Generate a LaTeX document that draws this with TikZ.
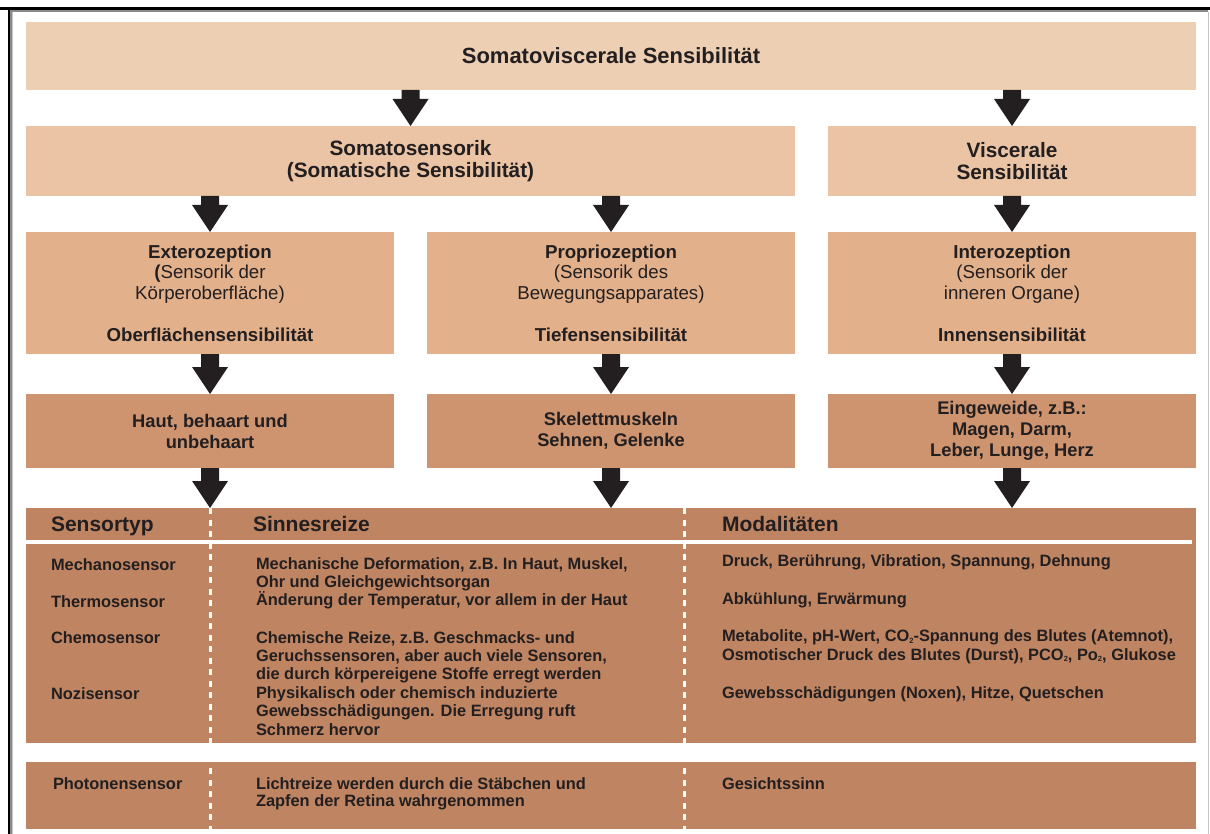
\documentclass[tikz,border=0pt]{standalone}
\usepackage{fontspec}
\setmainfont{Liberation Sans}
\usetikzlibrary{calc}

\definecolor{toneA}{HTML}{EDCFB3}
\definecolor{toneB}{HTML}{EAC4A4}
\definecolor{toneC}{HTML}{E2B08A}
\definecolor{toneD}{HTML}{CD946F}
\definecolor{toneE}{HTML}{BF8461}
\definecolor{ink}{HTML}{231F20}
\definecolor{frameDark}{HTML}{8A8A8A}
\definecolor{frameLight}{HTML}{C4C4C4}

\newcommand\fTitle{\fontsize{22}{24}\selectfont\bfseries}
\newcommand\fLevelB{\fontsize{20.8}{22.5}\selectfont\bfseries}
\newcommand\fLevelC{\fontsize{18.7}{20.7}\selectfont}
\newcommand\fLevelD{\fontsize{18.3}{21}\selectfont\bfseries}
\newcommand\fHead{\fontsize{21}{23}\selectfont\bfseries}
\newcommand\fCell{\fontsize{16.4}{18.4}\selectfont\bfseries}
% small lowered index digit
\newcommand\idx[1]{\raisebox{-1.6pt}{\fontsize{7.5}{7.5}\selectfont #1}}

% block arrow from the bottom of one node down to a point on the next
\newcommand\flowarrow[2]{%
  \path let \p1=(#1), \p2=(#2) in
    [fill=ink] (\x2-9pt,\y1) -- (\x2-9pt,\y2+27pt) -- (\x2-18pt,\y2+27pt)
    -- (\x2,\y2) -- (\x2+18pt,\y2+27pt) -- (\x2+9pt,\y2+27pt)
    -- (\x2+9pt,\y1) -- cycle;}

\tikzset{
  box/.style={rectangle, inner sep=0pt, outer sep=0pt, align=center, text=ink},
  wide/.style={box, minimum width=1170pt},
  narrow/.style={box, minimum width=368pt},
  cell/.style={anchor=base west, inner sep=0pt, outer sep=0pt, text=ink, font=\fCell},
  headcell/.style={anchor=base west, inner sep=0pt, outer sep=0pt, text=ink, font=\fHead},
  sep/.style={draw=white, line width=3pt, dash pattern=on 6pt off 5.5pt}
}

\begin{document}
\begin{tikzpicture}[x=1pt, y=-1pt]
\useasboundingbox (0,0) rectangle (1210,834);

% window frame
\fill[black] (0,7.5) rectangle (1210,10);
\fill[black] (7.5,7.5) rectangle (10,834);
\fill[frameDark] (10,10) rectangle (1208,12.5);
\fill[frameDark] (10,10) rectangle (11.8,834);
\fill[frameLight] (11.8,12.5) rectangle (12.8,834);
\fill[frameLight] (1208,12.5) rectangle (1209.2,834);

% level 1
\node[wide, fill=toneA, minimum height=68pt, font=\fTitle] (top) at (611,56)
  {Somatoviscerale Sensibilität};

% level 2
\node[box, fill=toneB, minimum width=769pt, minimum height=70pt, font=\fLevelB] (somato) at (410.5,161)
  {Somatosensorik\\(Somatische Sensibilität)};
\node[narrow, fill=toneB, minimum height=70pt, font=\fLevelB] (visc) at (1012,161)
  {Viscerale\\Sensibilität};

% level 3
\node[narrow, fill=toneC, minimum height=122pt, font=\fLevelC] (extero) at (210,293)
  {\textbf{Exterozeption}\\\textbf{(}Sensorik der\\Körperoberfläche)\\[20.7pt]\textbf{Oberflächensensibilität}};
\node[narrow, fill=toneC, minimum height=122pt, font=\fLevelC] (proprio) at (611,293)
  {\textbf{Propriozeption}\\(Sensorik des\\Bewegungsapparates)\\[20.7pt]\textbf{Tiefensensibilität}};
\node[narrow, fill=toneC, minimum height=122pt, font=\fLevelC] (intero) at (1012,293)
  {\textbf{Interozeption}\\(Sensorik der\\inneren Organe)\\[20.7pt]\textbf{Innensensibilität}};

% level 4
\node[narrow, fill=toneD, minimum height=74pt, font=\fLevelD] (haut) at (210,431)
  {Haut, behaart und\\unbehaart};
\node[narrow, fill=toneD, minimum height=74pt, font=\fLevelD] (muskel) at (611,431)
  {Skelettmuskeln\\Sehnen, Gelenke};
\node[narrow, fill=toneD, minimum height=74pt, font=\fLevelD] (organe) at (1012,431)
  {Eingeweide, z.B.:\\Magen, Darm,\\Leber, Lunge, Herz};

% sensor table
\node[wide, fill=toneE, minimum height=235pt] (table) at (611,625.5) {};
\node[wide, fill=toneE, minimum height=67pt] (photon) at (611,795.5) {};

% arrows
\flowarrow{top.south -| somato.north}{somato.north}
\flowarrow{top.south -| visc.north}{visc.north}
\flowarrow{somato.south -| extero.north}{extero.north}
\flowarrow{somato.south -| proprio.north}{proprio.north}
\flowarrow{visc.south}{intero.north}
\flowarrow{extero.south}{haut.north}
\flowarrow{proprio.south}{muskel.north}
\flowarrow{intero.south}{organe.north}
\flowarrow{haut.south}{haut.south |- table.north}
\flowarrow{muskel.south}{muskel.south |- table.north}
\flowarrow{organe.south}{organe.south |- table.north}

% table rules
\fill[white] (26,540) rectangle (1192,543.5);
\draw[sep] (210,508) -- (210,743);
\draw[sep] (684,508) -- (684,743);
\draw[sep] (210,768) -- (210,829);
\draw[sep] (684,768) -- (684,829);

% table header
\node[headcell] (hType) at (51,531.7) {Sensortyp};
\node[headcell] (hStim) at (253,531.7) {Sinnesreize};
\node[headcell] (hMod) at (722,531.7) {Modalitäten};

% sensor types
\node[cell] (tMech) at (51,570) {Mechanosensor};
\node[cell] (tTherm) at (51,607) {Thermosensor};
\node[cell] (tChem) at (51,643) {Chemosensor};
\node[cell] (tNoz) at (51,699) {Nozisensor};

% stimuli
\node[cell] (sMech) at (256,569) {\begin{tabular}[t]{@{}l@{}}Mechanische Deformation, z.B. In Haut, Muskel,\\Ohr und Gleichgewichtsorgan\end{tabular}};
\node[cell] (sTherm) at (256,605.5) {Änderung der Temperatur, vor allem in der Haut};
\node[cell] (sChem) at (256,643) {\begin{tabular}[t]{@{}l@{}}Chemische Reize, z.B. Geschmacks- und\\Geruchssensoren, aber auch viele Sensoren,\\die durch körpereigene Stoffe erregt werden\end{tabular}};
\node[cell] (sNoz) at (256,698.4) {\begin{tabular}[t]{@{}l@{}}Physikalisch oder chemisch induzierte\\Gewebsschädigungen. Die Erregung ruft\\Schmerz hervor\end{tabular}};

% modalities
\node[cell] (mMech) at (722,566.7) {Druck, Berührung, Vibration, Spannung, Dehnung};
\node[cell] (mTherm) at (722,604) {Abkühlung, Erwärmung};
\node[cell] (mChem) at (722,641.7) {\begin{tabular}[t]{@{}l@{}}Metabolite, pH-Wert, CO\idx{2}-Spannung des Blutes (Atemnot),\\Osmotischer Druck des Blutes (Durst), PCO\idx{2}, Po\idx{2}, Glukose\end{tabular}};
\node[cell] (mNoz) at (722,698.3) {Gewebsschädigungen (Noxen), Hitze, Quetschen};

% photoreceptor row
\node[cell] (tPhot) at (53,789.5) {Photonensensor};
\node[cell, font=\fontsize{16.4}{17}\selectfont\bfseries] (sPhot) at (256,789.3) {\begin{tabular}[t]{@{}l@{}}Lichtreize werden durch die Stäbchen und\\Zapfen der Retina wahrgenommen\end{tabular}};
\node[cell] (mPhot) at (722,789.3) {Gesichtssinn};
\end{tikzpicture}
\end{document}
